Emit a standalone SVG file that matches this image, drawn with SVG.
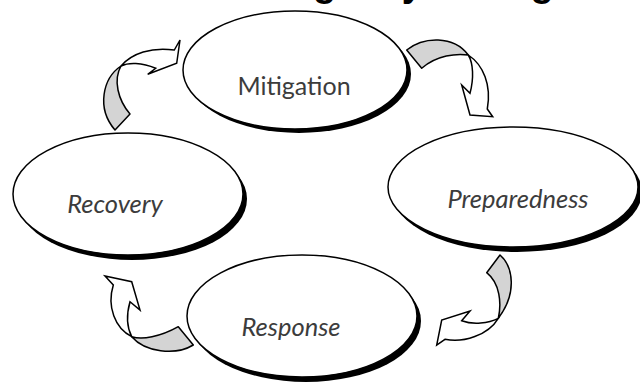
<svg xmlns="http://www.w3.org/2000/svg" width="640" height="383" viewBox="0 0 640 383">
<style>
.shadow{fill:#000;filter:url(#blur)}
.node{fill:#fff;stroke:#000;stroke-width:1.5}
.lbl{font-family:Lato,"Liberation Sans",sans-serif;fill:#3c3c3c;text-anchor:middle}
.it{font-style:italic;font-size:25.5px}
.gray{fill:#d4d4d4;stroke:#000;stroke-width:1.5;stroke-linejoin:round}
.white{fill:#fff;stroke:#000;stroke-width:1.5;stroke-linejoin:miter}
.title{font-family:"Liberation Sans",Arial,sans-serif;font-weight:bold;font-size:38px;fill:#000}
</style>
<defs>
<filter id="blur" x="-10%" y="-10%" width="120%" height="120%"><feGaussianBlur stdDeviation="0.6"/></filter>
</defs>
<rect width="640" height="383" fill="#fff"/>
<text class="title" x="218" y="-4">Emergency Management</text>
<g id="connectors">
  <g id="arrow-recovery-mitigation">
    <path class="gray" d="M121,66 C103,78 96,108 115,130 L130,114 C118,100 113,80 121,66 Z"/>
    <path class="white" d="M121,66 C131.7,53.3 151.7,46.7 174.3,50 L180,40 L176.7,63.3 L147.7,74.3 L155.7,68.3 C141.7,62.3 128.3,62.3 121,66 Z"/>
  </g>
  <g id="arrow-mitigation-preparedness">
    <path class="gray" d="M406.7,50 C423.3,36.7 453.3,35 468.3,55 C456.7,53.3 436.7,55 421.7,68.3 Z"/>
    <path class="white" d="M468.3,55 C483.3,65 491.7,85 487.3,109 L492.7,116.7 L470,115 L461.7,85 L470,93.3 C474,78.3 473.3,63.3 468.3,55 Z"/>
  </g>
  <g id="arrow-preparedness-response">
    <path class="gray" d="M500,255 C513.3,266.7 517.3,293.3 498.3,318.3 C501.7,303.3 500,283.3 486.7,272.7 Z"/>
    <path class="white" d="M498.3,318.3 C488.3,335 463.3,343.3 445,339.3 L436.7,345 L441.7,320 L470,311 L461.7,320.7 C473.3,325 488.3,323.3 498.3,318.3 Z"/>
  </g>
  <g id="arrow-response-recovery">
    <path class="gray" d="M178.3,326.7 C160,337 142,340 131.7,336.7 C145,352 175,356 193.3,345 Z"/>
    <path class="white" d="M131.7,336.7 C115,328.3 106.7,306.7 113.3,285 L105,276 L131.7,281.7 L140,310 L130,301.7 C126.7,313.3 126.7,326.7 131.7,336.7 Z"/>
  </g>
</g>
<g id="mitigation">
  <ellipse class="shadow" cx="299" cy="74" rx="112" ry="59"/>
  <ellipse class="node" cx="295" cy="70" rx="112" ry="59"/>
  <text class="lbl" x="294" y="95" font-size="25">Mitigation</text>
</g>
<g id="preparedness">
  <ellipse class="shadow" cx="517" cy="192" rx="125" ry="60"/>
  <ellipse class="node" cx="513" cy="187" rx="125" ry="60"/>
  <text class="lbl it" x="518" y="208">Preparedness</text>
</g>
<g id="recovery">
  <ellipse class="shadow" cx="132" cy="199" rx="115" ry="61"/>
  <ellipse class="node" cx="128" cy="194" rx="115" ry="61"/>
  <text class="lbl it" x="115" y="213">Recovery</text>
</g>
<g id="response">
  <ellipse class="shadow" cx="306" cy="321" rx="115" ry="61"/>
  <ellipse class="node" cx="302" cy="316" rx="115" ry="61"/>
  <text class="lbl it" x="291" y="336">Response</text>
</g>
</svg>
